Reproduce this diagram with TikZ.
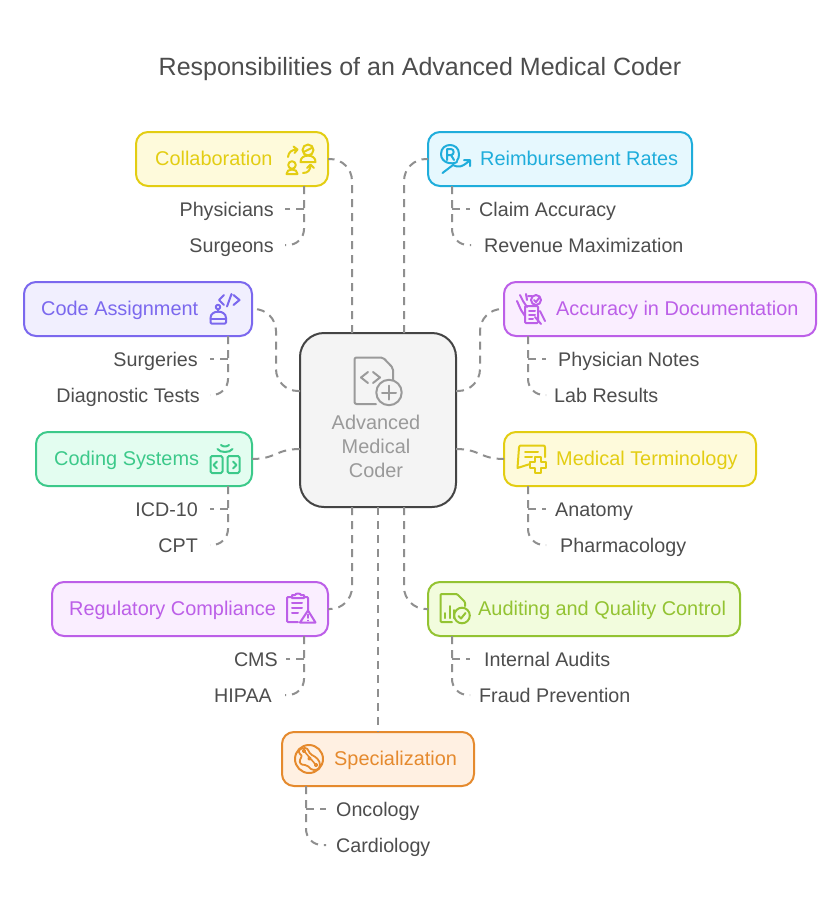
\documentclass[tikz,border=0pt]{standalone}
\usepackage{fontspec}
\setmainfont{Liberation Sans}
\definecolor{cY}{HTML}{E3CD12}\definecolor{fY}{HTML}{FEFADB}
\definecolor{cB}{HTML}{1FADDB}\definecolor{fB}{HTML}{E6F8FE}
\definecolor{cI}{HTML}{7B68EE}\definecolor{fI}{HTML}{F1EFFE}
\definecolor{cM}{HTML}{BC5FE8}\definecolor{fM}{HTML}{FAEEFF}
\definecolor{cG}{HTML}{3CC98A}\definecolor{fG}{HTML}{E3FDF0}
\definecolor{cL}{HTML}{93C332}\definecolor{fL}{HTML}{F2FCDD}
\definecolor{cO}{HTML}{E58A2E}\definecolor{fO}{HTML}{FFF0E2}
\definecolor{cC}{HTML}{444444}\definecolor{fC}{HTML}{F4F4F4}
\definecolor{tC}{HTML}{9A9A9A}\definecolor{ink}{HTML}{4D4D4D}\definecolor{dashC}{HTML}{8F8F8F}
\tikzset{
 boxn/.style 2 args={draw=#1,fill=#2,line width=2pt,rounded corners=12pt,inner sep=0pt,outer sep=0pt},
 lab/.style={text=#1,font=\fontsize{19.9pt}{24pt}\selectfont,inner sep=0pt,text height=14pt,text depth=0pt},
 leafL/.style={text=ink,font=\fontsize{19.7pt}{24pt}\selectfont,inner sep=0pt,text height=14pt,text depth=0pt,anchor=west},
 leafR/.style={text=ink,font=\fontsize{19.7pt}{24pt}\selectfont,inner sep=0pt,text height=14pt,text depth=0pt,anchor=east},
 conn/.style={draw=dashC,line width=2pt,dash pattern=on 8pt off 6pt},
 ic/.style={draw=#1,line width=2pt,line cap=round,line join=round},
}
\begin{document}
\begin{tikzpicture}[x=1pt,y=-1pt]
\useasboundingbox[fill=white] (0,0) rectangle (840,906);
\node[text=ink,font=\fontsize{25pt}{30pt}\selectfont,inner sep=0pt,text height=18pt,text depth=0pt] (title) at (420,66) {Responsibilities of an Advanced Medical Coder};

\node[boxn={cC}{fC},rounded corners=24pt,minimum width=156pt,minimum height=174pt] (center) at (378,420) {};
\node[boxn={cY}{fY},minimum width=192pt,minimum height=54pt] (collab) at (232,159) {};
\node[boxn={cB}{fB},minimum width=264pt,minimum height=54pt] (reimb) at (560,159) {};
\node[boxn={cI}{fI},minimum width=228pt,minimum height=54pt] (code) at (138,309) {};
\node[boxn={cM}{fM},minimum width=312pt,minimum height=54pt] (accu) at (660,309) {};
\node[boxn={cG}{fG},minimum width=216pt,minimum height=54pt] (systems) at (144,459) {};
\node[boxn={cY}{fY},minimum width=252pt,minimum height=54pt] (term) at (630,459) {};
\node[boxn={cM}{fM},minimum width=276pt,minimum height=54pt] (regu) at (190,609) {};
\node[boxn={cL}{fL},minimum width=312pt,minimum height=54pt] (audit) at (584,609) {};
\node[boxn={cO}{fO},minimum width=192pt,minimum height=54pt] (spec) at (378,759) {};

\draw[conn,rounded corners=22pt] ([xshift=-26pt]center.north) |- (collab.east);
\draw[conn,rounded corners=22pt] ([xshift=26pt]center.north) |- (reimb.west);
\draw[conn,rounded corners=22pt] ([yshift=29pt]center.west) -- (276,391) -- (276,309) -- (code.east);
\draw[conn,rounded corners=22pt] ([yshift=29pt]center.east) -- (480,391) -- (480,309) -- (accu.west);
\draw[conn] ([yshift=-29pt]center.west) .. controls (276,449) and (276,459) .. (systems.east);
\draw[conn] ([yshift=-29pt]center.east) .. controls (480,449) and (480,459) .. (term.west);
\draw[conn,rounded corners=22pt] ([xshift=-26pt]center.south) |- (regu.east);
\draw[conn,rounded corners=22pt] ([xshift=26pt]center.south) |- (audit.west);
\draw[conn] (center.south) -- (spec.north);

% box labels
\node[lab=cY,anchor=west] (collabT) at (155,158) {Collaboration};
\node[lab=cB,anchor=west] (reimbT) at (480,158) {Reimbursement Rates};
\node[lab=cI,anchor=west] (codeT) at (41,308) {Code Assignment};
\node[lab=cM,anchor=west] (accuT) at (556,308) {Accuracy in Documentation};
\node[lab=cG,anchor=west] (systemsT) at (54,458) {Coding Systems};
\node[lab=cY,anchor=west] (termT) at (556,458) {Medical Terminology};
\node[lab=cM,anchor=west] (reguT) at (69,608) {Regulatory Compliance};
\node[lab=cL,anchor=west] (auditT) at (478,608) {Auditing and Quality Control};
\node[lab=cO,anchor=west] (specT) at (334,758) {Specialization};

% centre label
\node[lab=tC] (c1) at (376,422) {Advanced};
\node[lab=tC] (c2) at (376,446) {Medical};
\node[lab=tC] (c3) at (376,470) {Coder};

% leaves
\node[leafR] (physicians) at (274,209) {Physicians};
\node[leafR] (surgeons) at (274,245) {Surgeons};
\node[leafL] (claim) at (479,209) {Claim Accuracy};
\node[leafL] (revenue) at (484,245) {Revenue Maximization};
\node[leafR] (surgeries) at (198,359) {Surgeries};
\node[leafR] (diag) at (200,395) {Diagnostic Tests};
\node[leafL] (notes) at (558,359) {Physician Notes};
\node[leafL] (lab) at (554,395) {Lab Results};
\node[leafR] (icd) at (198,509) {ICD-10};
\node[leafR] (cpt) at (198,545) {CPT};
\node[leafL] (anatomy) at (555,509) {Anatomy};
\node[leafL] (pharm) at (560,545) {Pharmacology};
\node[leafR] (cms) at (278,659) {CMS};
\node[leafR] (hipaa) at (272,695) {HIPAA};
\node[leafL] (internal) at (484,659) {Internal Audits};
\node[leafL] (fraud) at (479,695) {Fraud Prevention};
\node[leafL] (onco) at (336,809) {Oncology};
\node[leafL] (cardio) at (336,845) {Cardiology};

% leaf connectors
\coordinate (bA) at ([xshift=72pt]collab.south);
\draw[conn,rounded corners=16pt,shorten >=11pt] (bA) |- (surgeons.east);
\draw[conn,shorten >=11pt] (bA |- physicians.east) -- (physicians.east);
\coordinate (bB) at ([xshift=-108pt]reimb.south);
\draw[conn,rounded corners=16pt,shorten >=13pt] (bB) |- (revenue.west);
\draw[conn,shorten >=9pt] (bB |- claim.west) -- (claim.west);
\coordinate (bC) at ([xshift=90pt]code.south);
\draw[conn,rounded corners=16pt,shorten >=10pt] (bC) |- (diag.east);
\draw[conn,shorten >=12pt] (bC |- surgeries.east) -- (surgeries.east);
\coordinate (bD) at ([xshift=-132pt]accu.south);
\draw[conn,rounded corners=16pt,shorten >=8pt] (bD) |- (lab.west);
\draw[conn,shorten >=12pt] (bD |- notes.west) -- (notes.west);
\coordinate (bE) at ([xshift=84pt]systems.south);
\draw[conn,rounded corners=16pt,shorten >=12pt] (bE) |- (cpt.east);
\draw[conn,shorten >=12pt] (bE |- icd.east) -- (icd.east);
\coordinate (bF) at ([xshift=-102pt]term.south);
\draw[conn,rounded corners=16pt,shorten >=14pt] (bF) |- (pharm.west);
\draw[conn,shorten >=9pt] (bF |- anatomy.west) -- (anatomy.west);
\coordinate (bG) at ([xshift=114pt]regu.south);
\draw[conn,rounded corners=16pt,shorten >=13pt] (bG) |- (hipaa.east);
\draw[conn,shorten >=8pt] (bG |- cms.east) -- (cms.east);
\coordinate (bH) at ([xshift=-132pt]audit.south);
\draw[conn,rounded corners=16pt,shorten >=9pt] (bH) |- (fraud.west);
\draw[conn,shorten >=14pt] (bH |- internal.west) -- (internal.west);
\coordinate (bI) at ([xshift=-72pt]spec.south);
\draw[conn,rounded corners=16pt,shorten >=10pt] (bI) |- (cardio.west);
\draw[conn,shorten >=10pt] (bI |- onco.west) -- (onco.west);

% --- icons ---
% centre
\draw[ic=tC,rounded corners=2pt] (376,404) -- (354.5,404) -- (354.5,357.5) -- (383,357.5) -- (393,368) -- (393,380);
\draw[ic=tC] (368,372) -- (361,377.5) -- (368,383);
\draw[ic=tC] (373,372) -- (380,377.5) -- (373,383);
\draw[ic=tC] (389,392.5) circle (12.7);
\draw[ic=tC] (389,385.5) -- (389,399.5) (382,392.5) -- (396,392.5);
% collaboration
\draw[ic=cY] (308,150) circle (5.5) (303.5,152) -- (312.5,147.5);
\draw[ic=cY] (300.5,162) .. controls (300,153.5) and (316,153.5) .. (315.5,162) -- cycle;
\draw[ic=cY] (292,165) circle (3.8);
\draw[ic=cY] (286.5,174) .. controls (286,168) and (298,168) .. (297.5,174) -- cycle;
\draw[ic=cY] (288,157) .. controls (288.5,152) and (292,149.5) .. (297,149.5) (293.5,146.5) -- (297.5,149.5) -- (294.5,153);
\draw[ic=cY] (303,173) .. controls (308,173) and (310.5,170) .. (310.5,165) (307,168) -- (310.5,164.5) -- (314,168);
% reimbursement
\draw[ic=cB] (457,162) .. controls (452,165) and (441,163) .. (441,154) .. controls (441,142) and (459,142) .. (459,154) .. controls (459,157) and (458.5,159) .. (457,160.5);
\draw[ic=cB] (447,160) -- (447,149) -- (451,149) .. controls (454.5,149) and (454.5,155) .. (451,155) -- (447,155) (451,155) -- (454,160);
\draw[ic=cB] (442.5,173) -- (453,165) .. controls (458,168) and (463,167) .. (470,160) (464,160) -- (470,160) -- (470,166);
% code
\draw[ic=cI] (224,295) -- (219,300) -- (224,305) (233.5,295) -- (239.5,300) -- (233.5,305) (231.5,294) -- (227,306.5);
\draw[ic=cI] (218,307) circle (2.2) (218,309) -- (218,312);
\draw[ic=cI,rounded corners=1pt] (210.5,323.5) -- (210.5,319) .. controls (210.5,309.5) and (226,309.5) .. (226,319) -- (226,323.5) -- cycle;
\draw[ic=cI] (210.5,318.5) -- (226,318.5);
% accuracy
\draw[ic=cM,rounded corners=1pt] (525,306) -- (538,306) -- (538,323) -- (525,323) -- cycle;
\draw[ic=cM] (529,311) -- (535,311) (529,315) -- (535,315) (529,319) -- (533,319);
\draw[fill=fM,ic=cM] (536,300) circle (5);
\draw[ic=cM] (534,300) -- (536,302) -- (539.5,297.5);
\draw[ic=cM] (520,295) -- (523,301) -- (527,307) (526,294) -- (527,300) (517,301) -- (521,310) -- (525,316);
\draw[ic=cM] (528,296) -- (532,296) (540,311) -- (545,321) (535,317) -- (541,324);
% coding
\draw[ic=cG,rounded corners=1.5pt] (210.5,456) -- (222.5,456) -- (222.5,473) -- (210.5,473) -- cycle;
\draw[ic=cG,rounded corners=1.5pt] (227.5,456) -- (239.5,456) -- (239.5,473) -- (227.5,473) -- cycle;
\draw[ic=cG] (217,461.5) -- (213.5,465) -- (217,468.5) (233,461.5) -- (236.5,465) -- (233,468.5);
\draw[ic=cG] (217.5,449) .. controls (220,453) and (230,453) .. (232.5,449);
\draw[ic=cG] (221,445) .. controls (223,447) and (227,447) .. (229,445);
% medical
\draw[ic=cY] (530,464) -- (517.5,468) -- (519,447.5) .. controls (519,446) and (520,445.5) .. (521,445.5) -- (543,445.5) .. controls (544.5,445.5) and (545,446) .. (545,447.5) -- (545,457);
\draw[ic=cY] (525,451.5) -- (538,451.5) (525,456.5) -- (532,456.5);
\draw[ic=cY,fill=fY] (535,456.5) -- (541,456.5) -- (541,462) -- (546,462) -- (546,468) -- (541,468) -- (541,473) -- (535,473) -- (535,468) -- (530,468) -- (530,462) -- (535,462) -- cycle;
% regulatory
\draw[ic=cM,rounded corners=1pt] (298,622) -- (287,622) -- (287,597) -- (292,597) (304,597) -- (308,597) -- (308,610);
\draw[ic=cM] (292,598) -- (292,595) -- (295,595) .. controls (295,593) and (301,593) .. (301,595) -- (304,595) -- (304,598) -- cycle;
\draw[ic=cM] (292,603) -- (302,603) (292,608) -- (302,608) (292,613) -- (298,613);
\draw[ic=cM] (308,610.5) -- (315.5,622.5) -- (300,622.5) -- cycle;
\draw[ic=cM,line width=1.6pt] (308,614.5) -- (308,618) (308,620.4) -- (308,620.6);
% auditing
\draw[ic=cL,rounded corners=1pt] (452,622) -- (440.5,622) -- (440.5,594) -- (457,594) -- (465,602) -- (465,606);
\draw[ic=cL] (445,613) -- (445,618) (449.5,606) -- (449.5,618) (453.5,610) -- (453.5,618);
\draw[ic=cL] (462,615.5) circle (7.8) (458.5,616) -- (461,618.5) -- (465.5,613);
% specialization
\draw[ic=cO] (309,759) circle (14);
\draw[ic=cO,line width=1.8pt] (305,748) .. controls (309,748) and (308,753) .. (312,755) .. controls (316,757) and (320,760) .. (320,765) .. controls (320,770) and (314,771) .. (311,769) .. controls (308,767) and (308,765) .. (305,765) .. controls (301,765) and (299,763) .. (300,760) .. controls (301,757) and (303,756) .. (300,754) .. controls (297,751) and (300,748) .. (305,748) -- cycle;
\draw[ic=cO,line width=1.6pt] (304,751) -- (316,765) (304,751) circle (1.4) (309.5,758.5) circle (1.4) (316,765) circle (1.4);
\end{tikzpicture}
\end{document}
